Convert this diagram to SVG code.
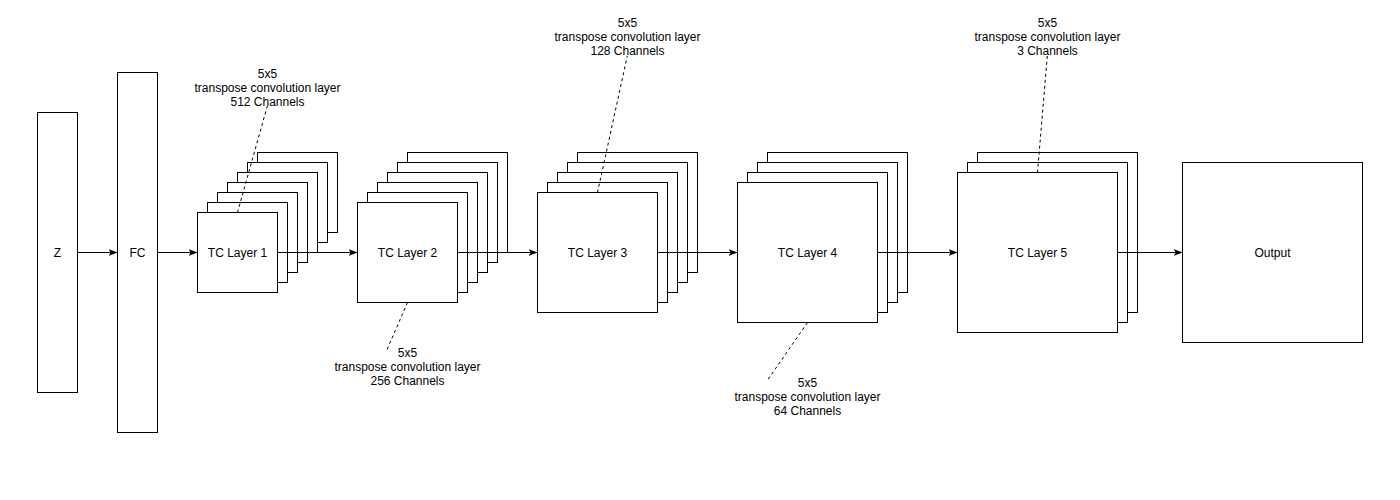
<svg xmlns="http://www.w3.org/2000/svg" width="1400" height="500" viewBox="0 0 1400 500">
<defs>
<marker id="arr" markerUnits="userSpaceOnUse" markerWidth="10" markerHeight="8" refX="9" refY="4" orient="auto">
<path d="M0,0.5 L9,4 L0,7.5 L2.2,4 Z" fill="#000"/>
</marker>
<style>
.box{fill:#fff;stroke:#000;stroke-width:1}
.t{font-family:"Liberation Sans",Arial,sans-serif;font-size:12px;fill:#000;text-anchor:middle}
.c{stroke:#000;stroke-width:1;fill:none}
.d{stroke:#000;stroke-width:1;fill:none;stroke-dasharray:3,3}
</style>
</defs>
<rect width="1400" height="500" fill="#fff"/>
<g id="node-z"><rect class="box" x="37.5" y="112.5" width="40" height="280"/><text class="t" x="57.5" y="256.5">Z</text></g>
<g id="node-fc"><rect class="box" x="117.5" y="72.5" width="40" height="360"/><text class="t" x="137.5" y="256.5">FC</text></g>
<g id="node-tc1">
<rect class="box" x="257.5" y="152.5" width="80" height="80"/>
<rect class="box" x="247.5" y="162.5" width="80" height="80"/>
<rect class="box" x="237.5" y="172.5" width="80" height="80"/>
<rect class="box" x="227.5" y="182.5" width="80" height="80"/>
<rect class="box" x="217.5" y="192.5" width="80" height="80"/>
<rect class="box" x="207.5" y="202.5" width="80" height="80"/>
<rect class="box" x="197.5" y="212.5" width="80" height="80"/>
<text class="t" x="237.5" y="256.5">TC Layer 1</text>
</g>
<g id="node-tc2">
<rect class="box" x="407.5" y="152.5" width="100" height="100"/>
<rect class="box" x="397.5" y="162.5" width="100" height="100"/>
<rect class="box" x="387.5" y="172.5" width="100" height="100"/>
<rect class="box" x="377.5" y="182.5" width="100" height="100"/>
<rect class="box" x="367.5" y="192.5" width="100" height="100"/>
<rect class="box" x="357.5" y="202.5" width="100" height="100"/>
<text class="t" x="407.5" y="256.5">TC Layer 2</text>
</g>
<g id="node-tc3">
<rect class="box" x="577.5" y="152.5" width="120" height="120"/>
<rect class="box" x="567.5" y="162.5" width="120" height="120"/>
<rect class="box" x="557.5" y="172.5" width="120" height="120"/>
<rect class="box" x="547.5" y="182.5" width="120" height="120"/>
<rect class="box" x="537.5" y="192.5" width="120" height="120"/>
<text class="t" x="597.5" y="256.5">TC Layer 3</text>
</g>
<g id="node-tc4">
<rect class="box" x="767.5" y="152.5" width="140" height="140"/>
<rect class="box" x="757.5" y="162.5" width="140" height="140"/>
<rect class="box" x="747.5" y="172.5" width="140" height="140"/>
<rect class="box" x="737.5" y="182.5" width="140" height="140"/>
<text class="t" x="807.5" y="256.5">TC Layer 4</text>
</g>
<g id="node-tc5">
<rect class="box" x="977.5" y="152.5" width="160" height="160"/>
<rect class="box" x="967.5" y="162.5" width="160" height="160"/>
<rect class="box" x="957.5" y="172.5" width="160" height="160"/>
<text class="t" x="1037.5" y="256.5">TC Layer 5</text>
</g>
<g id="node-output"><rect class="box" x="1182.5" y="162.5" width="180" height="180"/><text class="t" x="1272.5" y="256.5">Output</text></g>
<g id="label-1" class="t"><text x="267.5" y="77.5">5x5</text><text x="267.5" y="91.5">transpose convolution layer</text><text x="267.5" y="105.5">512 Channels</text></g>
<g id="label-2" class="t"><text x="407.5" y="356.5">5x5</text><text x="407.5" y="370.5">transpose convolution layer</text><text x="407.5" y="384.5">256 Channels</text></g>
<g id="label-3" class="t"><text x="627.5" y="27">5x5</text><text x="627.5" y="41">transpose convolution layer</text><text x="627.5" y="55">128 Channels</text></g>
<g id="label-4" class="t"><text x="807.5" y="386.5">5x5</text><text x="807.5" y="400.5">transpose convolution layer</text><text x="807.5" y="414.5">64 Channels</text></g>
<g id="label-5" class="t"><text x="1047.5" y="27">5x5</text><text x="1047.5" y="41">transpose convolution layer</text><text x="1047.5" y="55">3 Channels</text></g>
<g id="connectors">
<line class="c" x1="77.5" y1="252.5" x2="117.5" y2="252.5" marker-end="url(#arr)"/>
<line class="c" x1="157.5" y1="252.5" x2="197.5" y2="252.5" marker-end="url(#arr)"/>
<line class="c" x1="277.5" y1="252.5" x2="357.5" y2="252.5" marker-end="url(#arr)"/>
<line class="c" x1="457.5" y1="252.5" x2="537.5" y2="252.5" marker-end="url(#arr)"/>
<line class="c" x1="657.5" y1="252.5" x2="737.5" y2="252.5" marker-end="url(#arr)"/>
<line class="c" x1="877.5" y1="252.5" x2="957.5" y2="252.5" marker-end="url(#arr)"/>
<line class="c" x1="1117.5" y1="252.5" x2="1182.5" y2="252.5" marker-end="url(#arr)"/>
<line class="d" x1="237.5" y1="212.5" x2="267.3" y2="106"/>
<line class="d" x1="407.5" y1="302.5" x2="386" y2="352"/>
<line class="d" x1="597.5" y1="192.5" x2="627.3" y2="56"/>
<line class="d" x1="807.5" y1="322.5" x2="767.3" y2="380.5"/>
<line class="d" x1="1037.5" y1="172.5" x2="1047.3" y2="56"/>
</g>
</svg>
